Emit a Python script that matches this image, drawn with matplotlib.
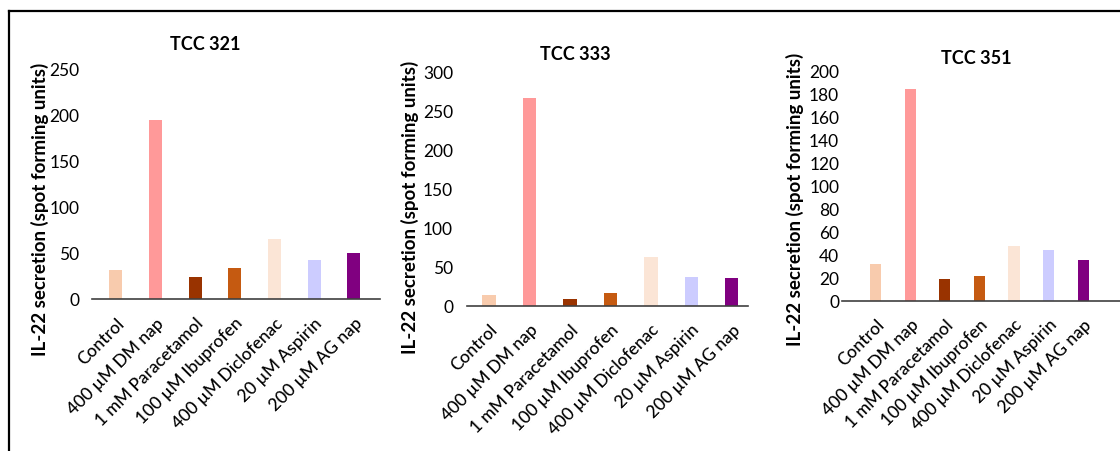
import matplotlib
import matplotlib.pyplot as plt
from matplotlib.lines import Line2D

matplotlib.use("Agg")
plt.rcParams["font.family"] = ["Lato", "DejaVu Sans"]

treatments = ["Control", "400 µM DM nap", "1 mM Paracetamol", "100 µM Ibuprofen",
              "400 µM Diclofenac", "20 µM Aspirin", "200 µM AG nap"]
colors = ["#F8CBAD", "#FF9999", "#993300", "#C55A11", "#FBE5D6", "#CCCCFF", "#800080"]

tcc321 = [31, 195, 23.5, 34, 65.5, 42.5, 49.5]
tcc333 = [14, 266, 9, 16, 62, 36.5, 35]
tcc351 = [31.5, 184, 19, 21.5, 48, 44.5, 35]

titles = ["TCC 321", "TCC 333", "TCC 351"]
series = [tcc321, tcc333, tcc351]
yticks = [range(0, 251, 50), range(0, 301, 50), range(0, 201, 20)]

W, H = 1120, 452
# axes boxes in pixels: left, right, y of top tick, y of zero
boxes = [(92, 380, 70, 300), (467, 748, 72.7, 306.7), (842, 1120, 71.7, 301.7)]
xlims = [(-0.6, 6.66), (-0.54, 6.4), (-0.98, 7.07)]
widths = [0.33, 0.33, 0.32]
ypads = [9, 10, 2]
title_pos = [(205, 45), (575, 55), (976, 58)]
ylab_pos = [(40, 209), (410, 207), (795, 199)]


def main():
    fig = plt.figure(figsize=(W / 100, H / 100), dpi=100)
    for i in range(3):
        l, r, t, b = boxes[i]
        ax = fig.add_axes([l / W, 1 - b / H, (r - l) / W, (b - t) / H])
        ax.bar(range(len(treatments)), series[i], width=widths[i], color=colors)
        ax.set_xlim(*xlims[i])
        ticks = list(yticks[i])
        ax.set_ylim(0, ticks[-1])
        ax.set_yticks(ticks)
        ax.tick_params(axis="y", length=0, labelsize=12.5, pad=ypads[i])
        ax.set_xticks(range(len(treatments)))
        ax.set_xticklabels(treatments, rotation=45, ha="right",
                           rotation_mode="anchor", fontsize=12.5,
                           fontweight="medium")
        ax.tick_params(axis="x", length=0, pad=11)
        for s in ["top", "right", "left"]:
            ax.spines[s].set_visible(False)
        ax.spines["bottom"].set_color("#404040")
        ax.spines["bottom"].set_linewidth(1.2)
        ax.patch.set_alpha(0)
        fig.text(title_pos[i][0] / W, 1 - title_pos[i][1] / H, titles[i],
                 ha="center", va="center", fontsize=13, fontweight="bold")
        fig.text(ylab_pos[i][0] / W, 1 - ylab_pos[i][1] / H,
                 "IL-22 secretion (spot forming units)", rotation=90,
                 ha="center", va="center", fontsize=13.5, fontweight="bold")

    # frame lines of the original figure
    fig.add_artist(Line2D([9 / W, 1], [1 - 12 / H, 1 - 12 / H], color="black", lw=1.6))
    fig.add_artist(Line2D([9 / W, 9 / W], [0, 1 - 12 / H], color="black", lw=1.6))

    fig.savefig("out.png", dpi=100)
    return 0


if __name__ == "__main__":
    main()
